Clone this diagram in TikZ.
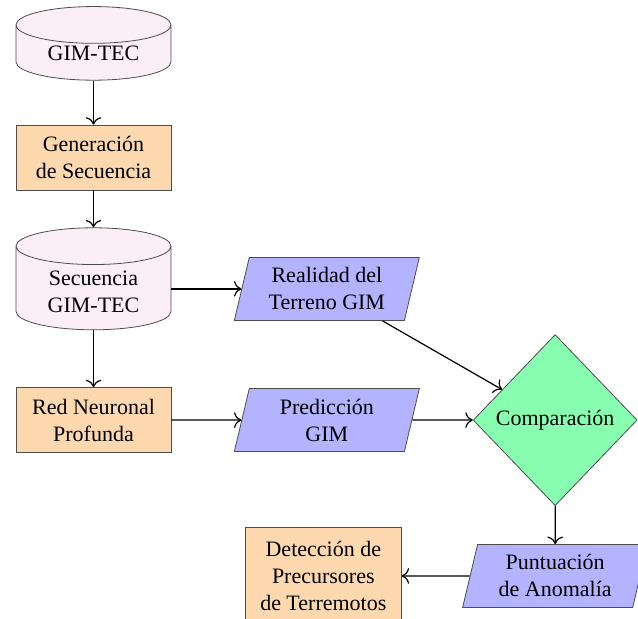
\documentclass[tikz,border=0pt]{standalone}
\usepackage{fontspec}
\setmainfont{Liberation Serif}
\usetikzlibrary{arrows.meta,positioning,shapes.geometric}
\definecolor{Blush}{HTML}{FBEEF6}
\definecolor{Peach}{HTML}{FED9B0}
\definecolor{Lavender}{HTML}{B3B3FF}
\definecolor{Mint}{HTML}{88FFB0}
\definecolor{Rim}{HTML}{4D4D4D}
\tikzset{
  store/.style={
    cylinder, shape border rotate=90, aspect=0.35, draw=Rim, fill=Blush,
    inner ysep=1pt, minimum width=77.5pt, minimum height=27pt, align=center
  },
  process/.style={
    rectangle, draw=Rim, fill=Peach,
    minimum width=77.5pt, minimum height=32.5pt, align=center
  },
  data/.style={
    trapezium, trapezium left angle=75, trapezium right angle=105,
    trapezium stretches body, draw=Rim, fill=Lavender,
    minimum width=92.5pt, minimum height=31.5pt, align=center
  },
  decision/.style={
    diamond, aspect=1, draw=Rim, fill=Mint,
    minimum width=82pt, minimum height=85.5pt, inner sep=0pt
  },
  flow/.style={-{To[length=1.3mm]}, semithick}
}

\begin{document}
\begin{tikzpicture}[font=\fontsize{11}{13.5}\selectfont]
        \useasboundingbox (0,0) rectangle (319pt,-309.5pt);
        \node[store,text depth=3.5pt] (gimtec) at (46.75pt,-28.25pt) {GIM-TEC};
        \node[process,below=22pt of gimtec] (gen) {Generación\\de Secuencia};
        \node[store,below=18.5pt of gen,minimum height=51pt] (seq) {Secuencia\\GIM-TEC};
        \node[process,below=28.5pt of seq] (dnn) {Red Neuronal\\Profunda};
        \node[data,right=35pt of seq,yshift=1.5pt] (real) {Realidad del\\Terreno GIM};
        \node[data,right=35pt of dnn] (pred) {Predicción\\GIM};
        \node[decision,right=30.25pt of pred] (cmp) {Comparación};
        \node[data,below=19pt of cmp] (score) {Puntuación\\de Anomalía};
        \node[process,left=34pt of score,minimum width=78pt,minimum height=49pt] (det) {Detección de\\Precursores\\de Terremotos};
        \draw[flow] (gimtec) -- (gen);
        \draw[flow] (gen) -- (seq);
        \draw[flow] (seq) -- (dnn);
        \draw[flow] (seq.east |- real.west) -- (real.west);
        \draw[flow] (dnn) -- (pred);
        \draw[flow] (real) -- (cmp);
        \draw[flow] (pred) -- (cmp);
        \draw[flow] (cmp) -- (score);
        \draw[flow] (score) -- (det);
      \end{tikzpicture}
\end{document}
